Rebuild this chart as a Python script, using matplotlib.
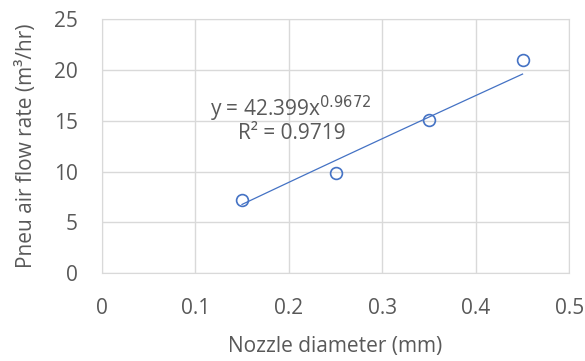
import numpy as np
import matplotlib
matplotlib.use('Agg')
from matplotlib import pyplot as plt

plt.rcParams['font.family'] = ['Open Sans', 'DejaVu Sans']

# measured points
nozzle_mm = [0.15, 0.25, 0.35, 0.45]
flow_m3hr = [7.2, 9.85, 15.1, 20.95]

# power trendline as reported on the chart
coef_a = 42.399
coef_b = 0.9672
r_squared = 0.9719

x_ticks = [0, 0.1, 0.2, 0.3, 0.4, 0.5]
y_ticks = [0, 5, 10, 15, 20, 25]

blue = '#4472C4'
grey = '#595959'
fs = 15

fig = plt.figure(figsize=(5.85, 3.61), dpi=100)
ax = fig.add_axes([101.7 / 585, 1 - 273.3 / 361, 467.6 / 585, 254.3 / 361])

xs = np.linspace(min(nozzle_mm), max(nozzle_mm), 50)
ax.plot(xs, coef_a * xs ** coef_b, color=blue, lw=0.9, zorder=2)
ax.plot(nozzle_mm, flow_m3hr, 'o', ms=8.5, mfc='none', mec=blue, mew=1.2, zorder=3)

ax.set_xlim(0, 0.5)
ax.set_ylim(0, 25)
ax.set_xticks(x_ticks)
ax.set_yticks(y_ticks)
ax.set_xticklabels([f'{t:g}' for t in x_ticks])
ax.grid(True, color='#d9d9d9', lw=1)
ax.set_axisbelow(True)
for s in ax.spines.values():
    s.set_color('#d9d9d9')
ax.tick_params(length=0, labelsize=fs, colors=grey)
ax.tick_params(axis='y', pad=17)
ax.tick_params(axis='x', pad=18)

ax.text(0.2024, 16.2, f'y = {coef_a}x$^{{{coef_b}}}$', ha='center', va='center',
        fontsize=fs, color=grey)
ax.text(0.2030, 13.7, f'R² = {r_squared}', ha='center', va='center',
        fontsize=fs, color=grey)

ax.set_xlabel('Nozzle diameter (mm)', fontsize=fs, color=grey, labelpad=12)
ax.set_ylabel('Pneu air flow rate (m³/hr)', fontsize=fs, color=grey, labelpad=12)

fig.savefig('out.png', dpi=100)
